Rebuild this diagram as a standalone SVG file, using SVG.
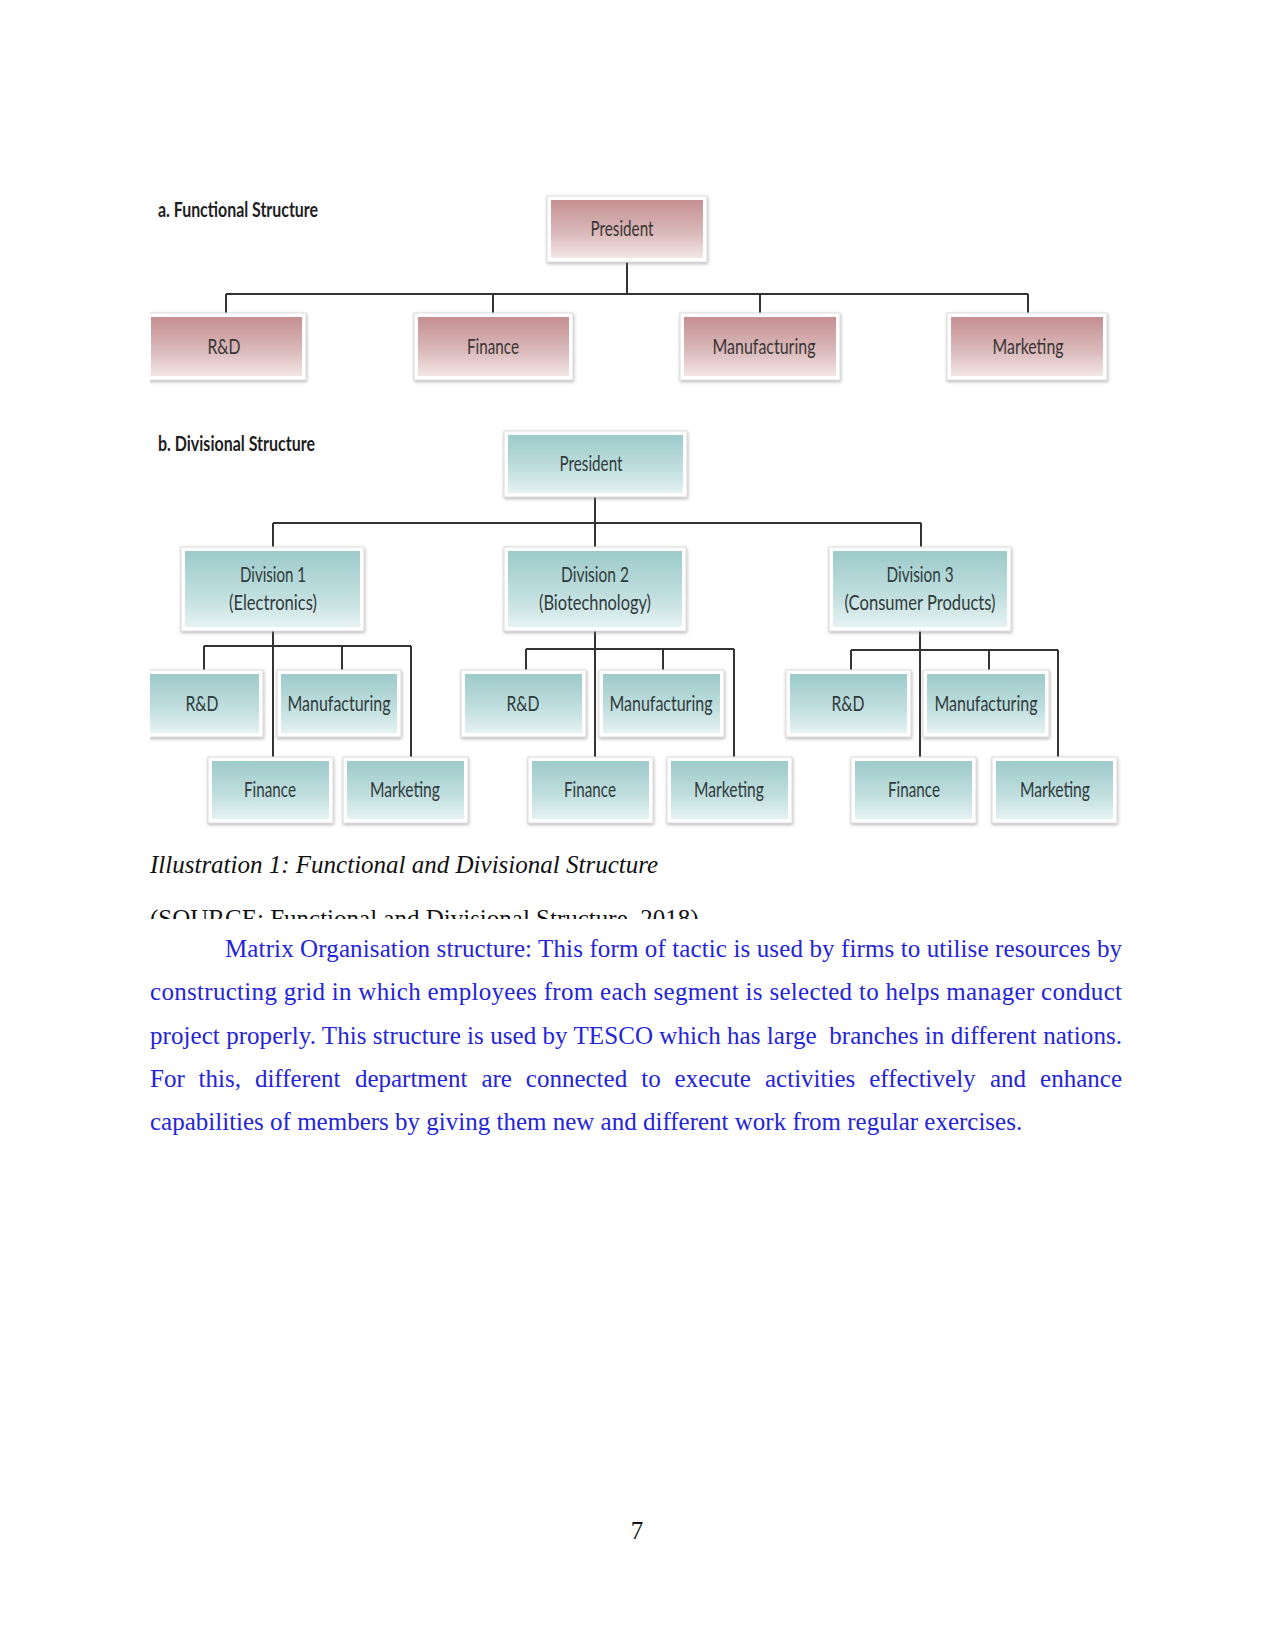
<svg xmlns="http://www.w3.org/2000/svg" width="1275" height="1650" viewBox="0 0 1275 1650">
<style>
.lbl{font-family:Lato,"Liberation Sans",sans-serif;font-size:22px;text-anchor:middle;fill:#3a3535}
.lblt{font-family:Lato,"Liberation Sans",sans-serif;font-size:22px;text-anchor:middle;fill:#2f3b3b}
.ttl{font-family:Lato,"Liberation Sans",sans-serif;font-size:20px;fill:#1e1e1e;font-weight:bold}
.frame{fill:#ffffff;stroke:#dcdcdc;stroke-width:1}
.red{fill:url(#gRed)}
.teal{fill:url(#gTeal)}
.con{stroke:#333333;stroke-width:2;fill:none}
.body{font-family:"Liberation Serif",serif;font-size:25px;fill:#2424d8}
.cap{font-family:"Liberation Serif",serif;font-size:25px;font-style:italic;fill:#111111}
.src{font-family:"Liberation Serif",serif;font-size:25px;fill:#111111}
</style>
<defs>
<linearGradient id="gRed" x1="0" y1="0" x2="0" y2="1">
<stop offset="0" stop-color="#c48f91"/>
<stop offset="0.6" stop-color="#dcbcbd"/>
<stop offset="1" stop-color="#f3e6e6"/>
</linearGradient>
<linearGradient id="gTeal" x1="0" y1="0" x2="0" y2="1">
<stop offset="0" stop-color="#9dcaca"/>
<stop offset="0.6" stop-color="#c2dfdf"/>
<stop offset="1" stop-color="#e6f2f2"/>
</linearGradient>
<filter id="sh" x="-10%" y="-15%" width="120%" height="140%">
<feDropShadow dx="0.5" dy="1.5" stdDeviation="1.8" flood-color="#7a7a7a" flood-opacity="0.55"/>
</filter>
<clipPath id="imgclip"><rect x="150" y="180" width="1000" height="660"/></clipPath>
<clipPath id="srcclip"><rect x="140" y="880" width="700" height="39"/></clipPath>
</defs>

<rect x="0" y="0" width="1275" height="1650" fill="#ffffff"/>

<g clip-path="url(#imgclip)">
<text class="ttl" x="158" y="217" textLength="160" lengthAdjust="spacingAndGlyphs">a. Functional Structure</text>
<text class="ttl" x="158" y="451" textLength="157" lengthAdjust="spacingAndGlyphs">b. Divisional Structure</text>

<g id="connectors">
<path class="con" d="M627 262V294M226 294H1028M226 294V313M493 294V313M760 294V313M1028 294V313"/>
<path class="con" d="M595 497V547M273 523H921M273 523V547M921 523V547"/>
<path class="con" d="M273 631V757M204 646H411M204 646V670M342 646V670M411 646V757"/>
<path class="con" d="M595 631V757M526 649H734M526 649V670M663 649V670M734 649V757"/>
<path class="con" d="M920 631V757M851 650H1058M851 650V670M989 650V670M1058 650V757"/>
</g>

<g id="f-president"><rect class="frame" filter="url(#sh)" x="547" y="196" width="160" height="66"/><rect class="red" x="551" y="200" width="152" height="58"/><text class="lbl" x="622" y="236" textLength="63" lengthAdjust="spacingAndGlyphs">President</text></g>
<g id="f-rd"><rect class="frame" filter="url(#sh)" x="147" y="313" width="159" height="67"/><rect class="red" x="151" y="317" width="151" height="59"/><text class="lbl" x="224" y="354" textLength="33" lengthAdjust="spacingAndGlyphs">R&amp;D</text></g>
<g id="f-finance"><rect class="frame" filter="url(#sh)" x="414" y="313" width="159" height="67"/><rect class="red" x="418" y="317" width="151" height="59"/><text class="lbl" x="493" y="354" textLength="52" lengthAdjust="spacingAndGlyphs">Finance</text></g>
<g id="f-manufacturing"><rect class="frame" filter="url(#sh)" x="680" y="313" width="160" height="67"/><rect class="red" x="684" y="317" width="152" height="59"/><text class="lbl" x="764" y="354" textLength="103" lengthAdjust="spacingAndGlyphs">Manufacturing</text></g>
<g id="f-marketing"><rect class="frame" filter="url(#sh)" x="947" y="313" width="160" height="67"/><rect class="red" x="951" y="317" width="152" height="59"/><text class="lbl" x="1028" y="354" textLength="71" lengthAdjust="spacingAndGlyphs">Marketing</text></g>

<g id="d-president"><rect class="frame" filter="url(#sh)" x="504" y="431" width="183" height="66"/><rect class="teal" x="508" y="435" width="175" height="58"/><text class="lblt" x="591" y="471" textLength="63" lengthAdjust="spacingAndGlyphs">President</text></g>
<g id="d-div1"><rect class="frame" filter="url(#sh)" x="181" y="547" width="183" height="84"/><rect class="teal" x="185" y="551" width="175" height="76"/><text class="lblt" x="273" y="582" textLength="66" lengthAdjust="spacingAndGlyphs">Division 1</text><text class="lblt" x="273" y="610" textLength="88" lengthAdjust="spacingAndGlyphs">(Electronics)</text></g>
<g id="d-div2"><rect class="frame" filter="url(#sh)" x="504" y="547" width="182" height="84"/><rect class="teal" x="508" y="551" width="174" height="76"/><text class="lblt" x="595" y="582" textLength="68" lengthAdjust="spacingAndGlyphs">Division 2</text><text class="lblt" x="595" y="610" textLength="112" lengthAdjust="spacingAndGlyphs">(Biotechnology)</text></g>
<g id="d-div3"><rect class="frame" filter="url(#sh)" x="829" y="547" width="182" height="84"/><rect class="teal" x="833" y="551" width="174" height="76"/><text class="lblt" x="920" y="582" textLength="67" lengthAdjust="spacingAndGlyphs">Division 3</text><text class="lblt" x="920" y="610" textLength="151" lengthAdjust="spacingAndGlyphs">(Consumer Products)</text></g>

<g id="d1-rd"><rect class="frame" filter="url(#sh)" x="142" y="670" width="121" height="67"/><rect class="teal" x="146" y="674" width="113" height="59"/><text class="lblt" x="202" y="711" textLength="33" lengthAdjust="spacingAndGlyphs">R&amp;D</text></g>
<g id="d1-manufacturing"><rect class="frame" filter="url(#sh)" x="277" y="670" width="124" height="67"/><rect class="teal" x="281" y="674" width="116" height="59"/><text class="lblt" x="339" y="711" textLength="103" lengthAdjust="spacingAndGlyphs">Manufacturing</text></g>
<g id="d1-finance"><rect class="frame" filter="url(#sh)" x="208" y="757" width="125" height="66"/><rect class="teal" x="212" y="761" width="117" height="58"/><text class="lblt" x="270" y="797" textLength="52" lengthAdjust="spacingAndGlyphs">Finance</text></g>
<g id="d1-marketing"><rect class="frame" filter="url(#sh)" x="343" y="757" width="125" height="66"/><rect class="teal" x="347" y="761" width="117" height="58"/><text class="lblt" x="405" y="797" textLength="70" lengthAdjust="spacingAndGlyphs">Marketing</text></g>

<g id="d2-rd"><rect class="frame" filter="url(#sh)" x="461" y="670" width="125" height="67"/><rect class="teal" x="465" y="674" width="117" height="59"/><text class="lblt" x="523" y="711" textLength="33" lengthAdjust="spacingAndGlyphs">R&amp;D</text></g>
<g id="d2-manufacturing"><rect class="frame" filter="url(#sh)" x="599" y="670" width="125" height="67"/><rect class="teal" x="603" y="674" width="117" height="59"/><text class="lblt" x="661" y="711" textLength="103" lengthAdjust="spacingAndGlyphs">Manufacturing</text></g>
<g id="d2-finance"><rect class="frame" filter="url(#sh)" x="528" y="757" width="125" height="66"/><rect class="teal" x="532" y="761" width="117" height="58"/><text class="lblt" x="590" y="797" textLength="52" lengthAdjust="spacingAndGlyphs">Finance</text></g>
<g id="d2-marketing"><rect class="frame" filter="url(#sh)" x="667" y="757" width="125" height="66"/><rect class="teal" x="671" y="761" width="117" height="58"/><text class="lblt" x="729" y="797" textLength="70" lengthAdjust="spacingAndGlyphs">Marketing</text></g>

<g id="d3-rd"><rect class="frame" filter="url(#sh)" x="786" y="670" width="125" height="67"/><rect class="teal" x="790" y="674" width="117" height="59"/><text class="lblt" x="848" y="711" textLength="33" lengthAdjust="spacingAndGlyphs">R&amp;D</text></g>
<g id="d3-manufacturing"><rect class="frame" filter="url(#sh)" x="923" y="670" width="126" height="67"/><rect class="teal" x="927" y="674" width="118" height="59"/><text class="lblt" x="986" y="711" textLength="103" lengthAdjust="spacingAndGlyphs">Manufacturing</text></g>
<g id="d3-finance"><rect class="frame" filter="url(#sh)" x="851" y="757" width="125" height="66"/><rect class="teal" x="855" y="761" width="117" height="58"/><text class="lblt" x="914" y="797" textLength="52" lengthAdjust="spacingAndGlyphs">Finance</text></g>
<g id="d3-marketing"><rect class="frame" filter="url(#sh)" x="992" y="757" width="125" height="66"/><rect class="teal" x="996" y="761" width="117" height="58"/><text class="lblt" x="1055" y="797" textLength="70" lengthAdjust="spacingAndGlyphs">Marketing</text></g>
</g>

<text class="cap" x="150" y="873">Illustration 1: Functional and Divisional Structure</text>
<g clip-path="url(#srcclip)"><text class="src" x="150" y="927">(SOURCE: Functional and Divisional Structure, 2018)</text></g>

<text class="body" x="225" y="957" textLength="897" lengthAdjust="spacing">Matrix Organisation structure: This form of tactic is used by firms to utilise resources by</text>
<text class="body" x="150" y="1000" textLength="972" lengthAdjust="spacing">constructing grid in which employees from each segment is selected to helps manager conduct</text>
<text class="body" x="150" y="1044" textLength="972" lengthAdjust="spacing" style="white-space:pre">project properly. This structure is used by TESCO which has large  branches in different nations.</text>
<text class="body" y="1087"><tspan x="150">For</tspan><tspan x="198.6">this,</tspan><tspan x="254.9">different</tspan><tspan x="354.9">department</tspan><tspan x="481.4">are</tspan><tspan x="525.8">connected</tspan><tspan x="641.2">to</tspan><tspan x="674.6">execute</tspan><tspan x="765">activities</tspan><tspan x="869.2">effectively</tspan><tspan x="990">and</tspan></text>
<text class="body" x="1122" y="1087" text-anchor="end">enhance</text>
<text class="body" x="150" y="1130">capabilities of members by giving them new and different work from regular exercises.</text>

<text class="src" x="637" y="1539" text-anchor="middle">7</text>
</svg>
